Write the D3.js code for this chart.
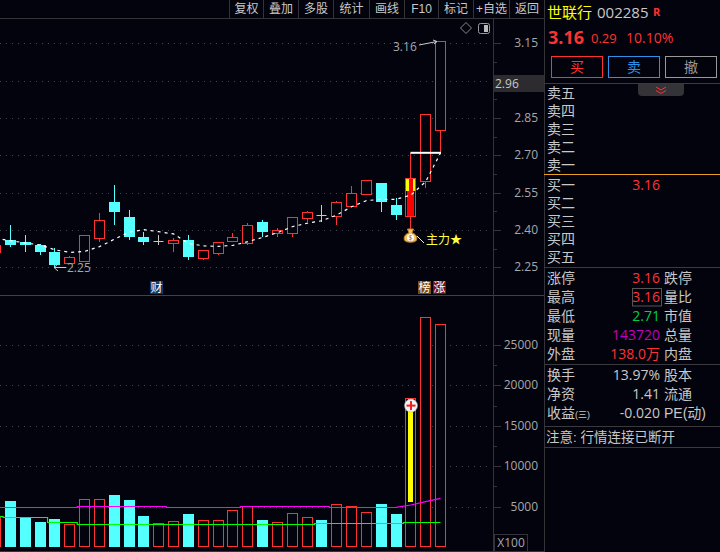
<!DOCTYPE html>
<html><head><meta charset="utf-8">
<script src="https://cdn.jsdelivr.net/npm/d3@7/dist/d3.min.js"></script>
<style>
html,body{margin:0;padding:0;background:#03030e;overflow:hidden}
svg{display:block}
text{font-family:"Open Sans","Noto Sans CJK SC",sans-serif;font-size:12px}
.cjk{font-family:"Liberation Sans","Noto Sans CJK SC",sans-serif}
rect.bar{shape-rendering:crispEdges}
</style></head><body><svg id="c" width="720" height="552"></svg>
<script>
// Candles: first entry is clipped at the left edge
const opens  = [2.31,2.36,2.352,2.34,2.311,2.267,2.277,2.369,2.512,2.452,2.372,2.356,2.349,2.36,2.289,2.309,2.357,2.349,2.432,2.389,2.389,2.449,2.459,2.457,2.498,2.546,2.589,2.50,2.457,2.598,2.80];
const closes = [2.34,2.34,2.34,2.311,2.259,2.291,2.379,2.439,2.472,2.372,2.352,2.356,2.36,2.291,2.318,2.35,2.371,2.419,2.392,2.399,2.451,2.472,2.459,2.511,2.547,2.60,2.514,2.46,2.608,2.867,3.16];
const highs  = [2.35,2.42,2.38,2.344,2.328,2.297,2.379,2.468,2.581,2.48,2.392,2.38,2.368,2.38,2.318,2.35,2.388,2.428,2.44,2.409,2.451,2.477,2.50,2.515,2.577,2.60,2.589,2.527,2.71,2.867,3.16];
const lows   = [2.30,2.333,2.313,2.30,2.252,2.263,2.273,2.353,2.42,2.36,2.34,2.34,2.311,2.279,2.279,2.299,2.352,2.34,2.372,2.373,2.373,2.433,2.433,2.421,2.493,2.54,2.473,2.44,2.40,2.57,2.71];
const priceMA = [2.3665,2.357,2.348,2.34,2.32,2.31,2.314,2.333,2.3625,2.392,2.401,2.393,2.384,2.346,2.336,2.334,2.338,2.353,2.37,2.389,2.413,2.427,2.437,2.46,2.493,2.518,2.523,2.523,2.54,2.594,2.709];
const volumes = [3750,5693,3676,3131,3465,2809,5900,5900,6436,5817,3837,2933,3180,4084,3300,3300,4540,5036,3342,3055,4170,3676,3342,5285,5036,4295,5322,4084,18400,28430,27560];
const volUp   = [1,0,0,0,0,1,1,1,0,0,0,1,1,0,1,1,1,1,0,1,1,1,0,1,1,1,0,0,1,1,1];
const volMA1 = [4913,4913,4913,4913,4913,4913,5037,5037,5037,5037,5037,5037,4913,4913,4913,4913,4913,5037,5037,5037,5037,5037,5037,4913,4913,4913,4913,4913,5198,5606,6027];
const volMA2 = [3800,3676,3676,3676,3057,3057,2809,2809,2809,2809,2809,2809,2809,2809,2809,2809,2809,2809,2809,2809,2809,2809,2933,2933,2933,2933,2933,2933,3057,3057,3057];
const priceTicks = [3.15,2.85,2.70,2.55,2.40,2.25];
const priceGrid  = [3.15,3.00,2.85,2.70,2.55,2.40,2.25];
const volTicks   = [25000,20000,15000,10000,5000];
const toolbar = ["复权","叠加","多股","统计","画线","F10","标记","+自选","返回"];
const askLabels = ["卖五","卖四","卖三","卖二","卖一"];
const bidLabels = ["买一","买二","买三","买四","买五"];
const statLeft = [["涨停","3.16","#ff3232"],["最高","3.16","#ff3232"],["最低","2.71","#00d040"],["现量","143720","#c000c0"],["外盘","138.0万","#ff3232"]];
const statRight = ["跌停","量比","市值","总量","内盘"];
const finLeft = [["换手","13.97%"],["净资","1.41"],["收益","-0.020"]];
const finRight = ["股本","流通","PE(动)"];

const RED="#ff3232",CY="#54ffff",GR="#c8c8c8",AX="#a8a8a8",LN="#333338",BG="#03030e";
const svg=d3.select("#c");
svg.append("rect").attr("width",720).attr("height",552).attr("fill",BG);
const idx=d3.range(opens.length);
const x=d3.scaleLinear().domain([1,30]).range([10.5,440.5]);
const y=d3.scaleLinear().domain([2.25,3.15]).range([267.3,43.3]);
const v=d3.scaleLinear().domain([0,25000]).range([547,345]);
const crisp=n=>Math.round(n)+.5;
const px=i=>Math.floor(x(i))+.5;
svg.append("clipPath").attr("id","clip").append("rect").attr("x",0).attr("y",18).attr("width",493).attr("height",534);
const main=svg.append("g").attr("clip-path","url(#clip)");

// grids
const dot=(sel,vals,sc)=>sel.selectAll(null).data(vals).join("line")
  .attr("x1",0).attr("x2",490).attr("y1",d=>crisp(sc(d))).attr("y2",d=>crisp(sc(d)))
  .attr("stroke","#45454c").attr("stroke-dasharray","1 5");
dot(main.append("g"),priceGrid,y); dot(main.append("g"),volTicks,v);

// candles
const g=main.append("g");
idx.forEach(i=>{
  const cx=px(i),o=opens[i],c=closes[i];
  const doji=o===c, up=c>o;
  const col=doji?GR:(up?RED:CY);
  const t=Math.round(y(Math.max(o,c))),b=Math.round(y(Math.min(o,c)));
  g.append("line").attr("x1",cx).attr("x2",cx).attr("y1",Math.round(y(highs[i]))).attr("y2",Math.round(y(lows[i]))).attr("stroke",col);
  if(doji){g.append("line").attr("x1",cx-5).attr("x2",cx+5).attr("y1",t+.5).attr("y2",t+.5).attr("stroke",col);}
  else if(up){
    g.append("rect").attr("class","bar").attr("x",cx-5).attr("y",t+.5).attr("width",10).attr("height",Math.max(b-t,1)).attr("fill",BG).attr("stroke",col);
  } else {
    g.append("rect").attr("class","bar").attr("x",cx-5.5).attr("y",t).attr("width",11).attr("height",Math.max(b-t,1)).attr("fill",col);
  }
});
// highlighted candle interior
const hi=28, hx=px(hi);
const hTop=Math.round(y(2.608))+1, hBot=Math.round(y(2.457));
g.append("rect").attr("class","bar").attr("x",hx-3.5).attr("y",hTop).attr("width",7).attr("height",hBot-hTop).attr("fill","#ff0000");
g.append("rect").attr("class","bar").attr("x",hx-4.5).attr("y",hTop).attr("width",2.5).attr("height",12).attr("fill","#ffff00");
g.append("rect").attr("class","bar").attr("x",hx+2).attr("y",hTop).attr("width",2.5).attr("height",12).attr("fill","#ffff00");
// white limit line
g.append("line").attr("x1",px(hi)).attr("x2",px(30)+.5).attr("y1",y(2.71)).attr("y2",y(2.71)).attr("stroke","#fff").attr("stroke-width",2);

// price MA
const ln=d3.line().x((d,i)=>x(i)).y(d=>y(d));
main.append("path").attr("d",ln(priceMA)).attr("fill","none").attr("stroke","#fff").attr("stroke-width",1.2).attr("stroke-dasharray","3 4");

// volume
const vg=main.append("g");
idx.forEach(i=>{
  const cx=px(i),t=Math.round(v(volumes[i]));
  if(volUp[i]) vg.append("rect").attr("class","bar").attr("x",cx-5).attr("y",t+.5).attr("width",10).attr("height",546-t).attr("fill",BG).attr("stroke",RED);
  else vg.append("rect").attr("class","bar").attr("x",cx-5.5).attr("y",t).attr("width",11).attr("height",547-t).attr("fill",CY);
});
vg.append("rect").attr("class","bar").attr("x",hx-2.5).attr("y",v(18300)).attr("width",5).attr("height",v(5600)-v(18300)).attr("fill","#ffff00");
const stepV=d3.line().curve(d3.curveStep).x(d=>x(d[0])).y(d=>Math.round(v(d[1]))+.5);
const linV=d3.line().x(d=>x(d[0])).y(d=>v(d[1]));
const ma1=volMA1.map((d,i)=>[i,d]), ma2=volMA2.map((d,i)=>[i,d]);
main.append("path").attr("d",stepV(ma1.slice(0,28))).attr("fill","none").attr("stroke","#ff00ff").attr("stroke-width",1.2);
main.append("path").attr("d",linV(ma1.slice(27))).attr("fill","none").attr("stroke","#ff00ff").attr("stroke-width",1.2);
main.append("path").attr("d",stepV(ma2)).attr("fill","none").attr("stroke","#00ff00").attr("stroke-width",1.2);
// plus badge
const pb=svg.append("g").attr("transform",`translate(${hx+.5},${v(17500)})`);
pb.append("circle").attr("r",6.5).attr("fill","#f4f4f4").attr("stroke","#aaa").attr("stroke-width",.6);
pb.append("rect").attr("x",-4.5).attr("y",-1).attr("width",9).attr("height",2).attr("fill","#f02020");
pb.append("rect").attr("x",-1).attr("y",-4.5).attr("width",2).attr("height",9).attr("fill","#f02020");

// frame lines
const hline=(x1,x2,yy,c=LN)=>svg.append("line").attr("x1",x1).attr("x2",x2).attr("y1",yy).attr("y2",yy).attr("stroke",c);
const vline=(xx,y1,y2,c=LN)=>svg.append("line").attr("x1",xx).attr("x2",xx).attr("y1",y1).attr("y2",y2).attr("stroke",c);
hline(0,544,18.5); hline(0,544,295.5,"#404046");
vline(493.5,18,552); vline(544.5,0,552);
hline(0,544,551.5);

// toolbar
const tbX=[229.5,263.5,298.5,333.5,369.5,404.5,438.5,473.5,509.5,544.5];
tbX.forEach(xx=>vline(xx,0,18));
toolbar.forEach((t,i)=>svg.append("text").attr("class","cjk").attr("x",(tbX[i]+tbX[i+1])/2).attr("y",13).attr("text-anchor","middle").attr("fill",GR).text(t));

// axes
const minor=d3.range(0,6).map(i=>2.325+i*.15);
svg.append("g").selectAll(null).data(minor).join("line").attr("x1",493).attr("x2",497).attr("y1",d=>crisp(y(d))).attr("y2",d=>crisp(y(d))).attr("stroke",LN);
svg.append("g").selectAll(null).data(priceGrid).join("line").attr("x1",493).attr("x2",501).attr("y1",d=>crisp(y(d))).attr("y2",d=>crisp(y(d))).attr("stroke",LN);
svg.append("g").selectAll(null).data(priceTicks).join("text").attr("x",538).attr("y",d=>y(d)+4).attr("text-anchor","end").attr("fill",AX).text(d=>d.toFixed(2));
svg.append("g").selectAll(null).data(volTicks).join("line").attr("x1",493).attr("x2",501).attr("y1",d=>crisp(v(d))).attr("y2",d=>crisp(v(d))).attr("stroke",LN);
svg.append("g").selectAll(null).data([7500,12500,17500,22500]).join("line").attr("x1",493).attr("x2",497).attr("y1",d=>crisp(v(d))).attr("y2",d=>crisp(v(d))).attr("stroke",LN);
svg.append("g").selectAll(null).data(volTicks).join("text").attr("x",538).attr("y",d=>v(d)+4).attr("text-anchor","end").attr("fill",AX).text(d=>d);
svg.append("rect").attr("x",494).attr("y",75).attr("width",50).attr("height",17).attr("fill","#2b2b30");
svg.append("text").attr("x",495).attr("y",88).attr("fill",GR).text("2.96");
svg.append("rect").attr("x",494.5).attr("y",534.5).attr("width",33).attr("height",17).attr("fill","none").attr("stroke",LN);
svg.append("text").attr("x",511).attr("y",547).attr("text-anchor","middle").attr("fill",AX).text("X100");

// annotations
svg.append("text").attr("x",393).attr("y",51).attr("fill",AX).text("3.16");
svg.append("line").attr("x1",419).attr("y1",45).attr("x2",437).attr("y2",41.5).attr("stroke","#ccc");
svg.append("path").attr("d","M433,40 L437,41.5 L434,44").attr("fill","none").attr("stroke","#ccc");
svg.append("line").attr("x1",54).attr("x2",66).attr("y1",267.5).attr("y2",267.5).attr("stroke","#ccc");
svg.append("path").attr("d","M58,264 L54,267.5 L58,271").attr("fill","none").attr("stroke","#ccc");
svg.append("text").attr("x",67).attr("y",271.5).attr("fill",AX).text("2.25");
svg.append("path").attr("d","M466,22.5 L471.5,28 L466,33.5 L460.5,28 Z").attr("fill","none").attr("stroke","#888");
svg.append("rect").attr("x",478.5).attr("y",23.5).attr("width",11).attr("height",10).attr("rx",2).attr("fill","none").attr("stroke","#999");
svg.append("rect").attr("x",484).attr("y",25).attr("width",4).attr("height",7).attr("fill","#bbb");
// badges
[[150,"财","#0a3a6a"],[418,"榜","#7a4a10"],[433,"涨","#7a1010"]].forEach(([bx,t,c])=>{
  svg.append("rect").attr("x",bx).attr("y",281).attr("width",13).attr("height",13).attr("fill",c);
  svg.append("text").attr("class","cjk").attr("x",bx+6.5).attr("y",292).attr("text-anchor","middle").attr("fill","#fff").text(t);
});
// money bag
const mb=svg.append("g").attr("transform","translate(410.5,236)");
mb.append("path").attr("d","M-3,-7 L3,-7 L1.5,-3 C6,-2 7,2 6,4 C5,7 -5,7 -6,4 C-7,2 -6,-2 -1.5,-3 Z").attr("fill","#f0c060").attr("stroke","#c08020");
mb.append("circle").attr("r",3.5).attr("cy",1.5).attr("fill","#fff");
mb.append("text").attr("y",4).attr("text-anchor","middle").attr("fill","#a06010").style("font-size","7px").text("$");
svg.append("line").attr("x1",417).attr("y1",236).attr("x2",424).attr("y2",243).attr("stroke","#ffff40");
svg.append("text").attr("class","cjk").attr("x",426).attr("y",244).attr("fill","#ffff40").text("主力★");

// right panel
const T=(xx,yy,s,c=GR,anchor="start",size=14,weight=null,cls="cjk")=>{
  const e=svg.append("text").attr("class",cls).attr("x",xx).attr("y",yy).attr("fill",c).attr("text-anchor",anchor).style("font-size",size+"px").text(s);
  if(weight)e.style("font-weight",weight);return e;};
T(547,18,"世联行","#ffff00","start",15);
T(597,18,"002285",GR,"start",15,null,"");
T(653,16,"R",RED,"start",11,"bold","");
T(548,44,"3.16",RED,"start",18,"bold","");
T(591,43,"0.29",RED,"start",13,null,"");
T(626,43,"10.10%",RED,"start",14,null,"");
[[551,"买",RED,"#ff3232"],[608,"卖","#2f90e8","#2f90e8"],[665,"撤","#999","#999"]].forEach(([bx,t,c,s])=>{
  svg.append("rect").attr("x",bx+.5).attr("y",56.5).attr("width",51).attr("height",21).attr("fill","none").attr("stroke",s);
  T(bx+26,72,t,c,"middle",14);
});
hline(544,720,83.5,"#3a3a3e");
svg.append("path").attr("d","M638,84 H684 V92 Q684,96 680,96 H642 Q638,96 638,92 Z").attr("fill","#333338");
svg.append("path").attr("d","M656,87 L661,90 L666,87 M656,90.5 L661,93.5 L666,90.5").attr("fill","none").attr("stroke",RED);
askLabels.forEach((t,i)=>T(547,98+i*18,t));
hline(544,720,174.5,"#e8a020");
bidLabels.forEach((t,i)=>T(547,190+i*18,t));
T(660,190,"3.16",RED,"end",14,null,"");
hline(544,720,267.5,"#3a3a3e");
statLeft.forEach((r,i)=>{const yy=283+i*18.9;
  T(547,yy,r[0]);T(660,yy,r[1],r[2],"end",14,null,"");T(664,yy,statRight[i]);});
svg.append("rect").attr("x",632.5).attr("y",288.5).attr("width",29).attr("height",17.5).attr("fill","none").attr("stroke","#555");
hline(544,720,364.5,"#3a3a3e");
finLeft.forEach((r,i)=>{const yy=379.5+i*19;
  T(547,yy,r[0]);T(660,yy,r[1],GR,"end",14,null,"");T(664,yy,finRight[i]);});
T(575,417.5,"(三)",GR,"start",9);
hline(544,720,426.5,"#3a3a3e");
T(546,441.5,"注意: 行情连接已断开",GR,"start",13.5);
hline(544,720,447.5,"#3a3a3e");
</script></body></html>
